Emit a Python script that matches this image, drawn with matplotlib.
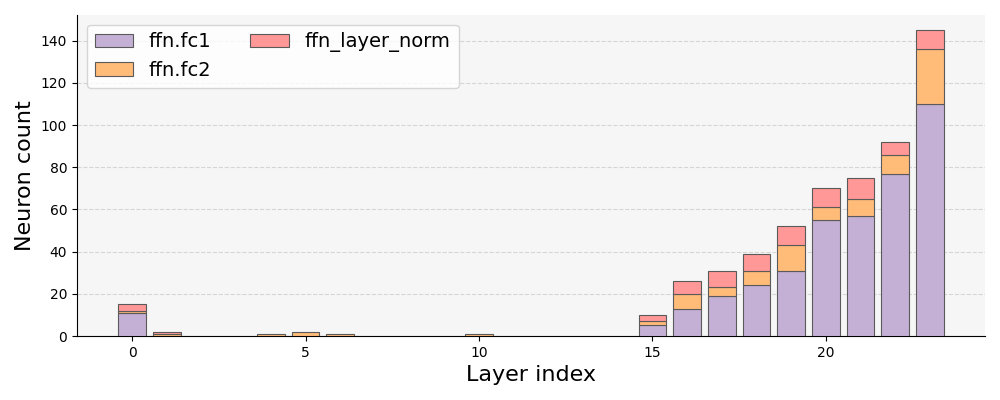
import numpy as np
import matplotlib
matplotlib.use('Agg')
from matplotlib import pyplot as plt

layers = np.arange(24)
fc1 = [11, 0, 0, 0, 0, 0, 0, 0, 0, 0, 0, 0, 0, 0, 0, 5, 13, 19, 24, 31, 55, 57, 77, 110]
fc2 = [1, 1, 0, 0, 1, 2, 1, 0, 0, 0, 1, 0, 0, 0, 0, 2, 7, 4, 7, 12, 6, 8, 9, 26]
norm = [3, 1, 0, 0, 0, 0, 0, 0, 0, 0, 0, 0, 0, 0, 0, 3, 6, 8, 8, 9, 9, 10, 6, 9]

fc1 = np.array(fc1)
fc2 = np.array(fc2)
norm = np.array(norm)

fig, ax = plt.subplots(figsize=(10, 4), dpi=100)
ax.set_facecolor('#f6f6f6')
ec = '#5a5a5a'

# only draw segments that are non-zero, otherwise empty layers show edge lines
bottom = np.zeros(24)
for vals, col, lab in [(fc1, '#c5b0d5', 'ffn.fc1'), (fc2, '#ffbb78', 'ffn.fc2'), (norm, '#ff9896', 'ffn_layer_norm')]:
    m = vals > 0
    ax.bar(layers[m], vals[m], bottom=bottom[m], color=col, edgecolor=ec, linewidth=0.8, label=lab, zorder=3)
    bottom = bottom + vals

ax.grid(axis='y', linestyle='--', color='#d5d5d5', linewidth=0.8, zorder=0)
ax.spines['top'].set_visible(False)
ax.spines['right'].set_visible(False)
ax.set_xlim(-1.59, 24.59)
ax.set_xlabel('Layer index', fontsize=16)
ax.set_ylabel('Neuron count', fontsize=16)
ax.legend(ncol=2, fontsize=14, loc='upper left')

plt.subplots_adjust(left=0.077, right=0.985, top=0.963, bottom=0.16)
plt.savefig('out.png')
